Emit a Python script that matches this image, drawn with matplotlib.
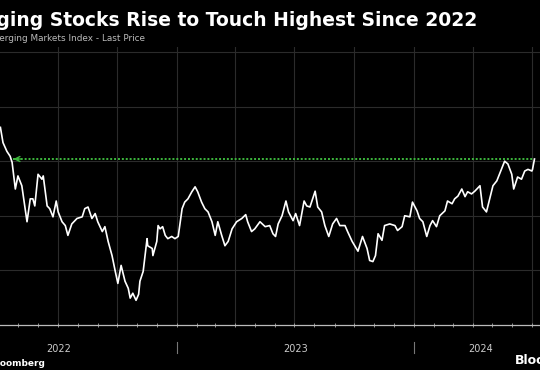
import matplotlib
matplotlib.use("Agg")
import matplotlib.pyplot as plt
import matplotlib.dates as mdates
import matplotlib.transforms as mtransforms
import numpy as np
import pandas as pd

# MSCI Emerging Markets Index, last price
dates = ["2022-04-04", "2022-04-08", "2022-04-14", "2022-04-19", "2022-04-22", "2022-04-27",
         "2022-05-01", "2022-05-07", "2022-05-12", "2022-05-15", "2022-05-20", "2022-05-24",
         "2022-05-27", "2022-06-01", "2022-06-07", "2022-06-09", "2022-06-15", "2022-06-19",
         "2022-06-24", "2022-06-29", "2022-07-02", "2022-07-08", "2022-07-13", "2022-07-17",
         "2022-07-23", "2022-07-31", "2022-08-08", "2022-08-12", "2022-08-17", "2022-08-23",
         "2022-08-28", "2022-09-01", "2022-09-08", "2022-09-12", "2022-09-17", "2022-09-23",
         "2022-09-28", "2022-10-02", "2022-10-07", "2022-10-13", "2022-10-18", "2022-10-21",
         "2022-10-25", "2022-10-30", "2022-11-03", "2022-11-05", "2022-11-10", "2022-11-16",
         "2022-11-17", "2022-11-24", "2022-11-25", "2022-12-01", "2022-12-03", "2022-12-06",
         "2022-12-10", "2022-12-14", "2022-12-18", "2022-12-24", "2022-12-29", "2023-01-03",
         "2023-01-09", "2023-01-13", "2023-01-18", "2023-01-24", "2023-01-29", "2023-02-02",
         "2023-02-08", "2023-02-13", "2023-02-18", "2023-02-24", "2023-03-01", "2023-03-05",
         "2023-03-11", "2023-03-16", "2023-03-21", "2023-03-27", "2023-04-03", "2023-04-11",
         "2023-04-17", "2023-04-20", "2023-04-26", "2023-05-01", "2023-05-09", "2023-05-17",
         "2023-05-24", "2023-05-29", "2023-06-02", "2023-06-06", "2023-06-12", "2023-06-18",
         "2023-06-22", "2023-06-29", "2023-07-03", "2023-07-09", "2023-07-16", "2023-07-20",
         "2023-07-25", "2023-08-02", "2023-08-06", "2023-08-12", "2023-08-17", "2023-08-23",
         "2023-08-29", "2023-09-04", "2023-09-09", "2023-09-17", "2023-09-21", "2023-09-28",
         "2023-10-02", "2023-10-07", "2023-10-14", "2023-10-21", "2023-10-25", "2023-10-30",
         "2023-11-03", "2023-11-07", "2023-11-13", "2023-11-17", "2023-11-25", "2023-12-03",
         "2023-12-07", "2023-12-14", "2023-12-18", "2023-12-26", "2023-12-30", "2024-01-06",
         "2024-01-10", "2024-01-15", "2024-01-21", "2024-01-26", "2024-01-30", "2024-02-05",
         "2024-02-10", "2024-02-18", "2024-02-22", "2024-02-29", "2024-03-04", "2024-03-09",
         "2024-03-15", "2024-03-20", "2024-03-24", "2024-03-30", "2024-04-04", "2024-04-12",
         "2024-04-16", "2024-04-22", "2024-04-27", "2024-05-02", "2024-05-08", "2024-05-12",
         "2024-05-20", "2024-05-25", "2024-05-31", "2024-06-03", "2024-06-09", "2024-06-15",
         "2024-06-20", "2024-06-25", "2024-07-01", "2024-07-02", "2024-07-05"]
prices = [1162, 1134, 1118, 1109, 1098, 1049,
          1073, 1055, 1013, 989, 1031, 1031,
          1018, 1076, 1067, 1073, 1018, 1013,
          998, 1027, 1007, 989, 982, 964,
          985, 995, 998, 1013, 1016, 995,
          1004, 989, 971, 980, 953, 927,
          898, 876, 909, 880, 867, 849,
          858, 845, 856, 880, 898, 958,
          945, 940, 927, 953, 982, 976,
          980, 964, 958, 962, 958, 962,
          1013, 1025, 1031, 1044, 1053, 1044,
          1025, 1013, 1007, 989, 964, 989,
          964, 945, 953, 976, 989, 995,
          1002, 989, 971, 976, 989, 980,
          982, 967, 962, 985, 1000, 1027,
          1007, 991, 1004, 982, 1027, 1018,
          1016, 1045, 1016, 1007, 982, 962,
          985, 995, 982, 982, 971, 953,
          945, 935, 962, 940, 918, 916,
          927, 967, 955, 982, 985, 982,
          973, 980, 1000, 998, 1025, 1009,
          995, 989, 962, 982, 991, 980,
          1000, 1009, 1027, 1022, 1031, 1036,
          1049, 1035, 1044, 1040, 1045, 1055,
          1016, 1007, 1031, 1055, 1064, 1076,
          1100, 1095, 1076, 1049, 1071, 1067,
          1082, 1085, 1082, 1085, 1104]

high_level = 1104
high_from = "2022-04-24"
years = ["2022", "2023", "2024"]

x = pd.to_datetime(dates)
xmin = pd.Timestamp("2022-01-01")
xmax = pd.Timestamp("2024-07-26")

fig = plt.figure(figsize=(5.4, 3.7), dpi=100, facecolor="black")
# axes extend past the left/right edges, like the cropped original
ax = fig.add_axes([-0.111, 0.122, 1.126, 0.752], facecolor="black")

ax.plot(x, prices, color="white", lw=1.2, zorder=3)

# dotted green "highest since" arrow
ax.plot([pd.Timestamp(high_from), x[-1]], [high_level, high_level],
        color="#3db83d", lw=1.4, ls=(0, (1, 1)), zorder=2)
ax.annotate("", xy=(pd.Timestamp(high_from), high_level),
            xytext=(pd.Timestamp(high_from) + pd.Timedelta(days=12), high_level),
            arrowprops=dict(arrowstyle="->", color="#3db83d", lw=1.0,
                            mutation_scale=9, shrinkA=0, shrinkB=0), zorder=2)

ax.set_xlim(xmin, xmax)
ax.set_ylim(800, 1310)
ax.set_yticks([900, 1000, 1100, 1200, 1300])
ax.xaxis.set_major_locator(mdates.MonthLocator(bymonth=[1, 4, 7, 10]))
ax.xaxis.set_minor_locator(mdates.MonthLocator())
ax.grid(True, color="#2b2b2b", lw=0.8)
ax.tick_params(axis="y", length=0, labelleft=False)
ax.tick_params(axis="x", which="both", labelbottom=False, color="#aaaaaa",
               direction="inout", length=3, width=0.6)
for s in ["top", "right", "left"]:
    ax.spines[s].set_visible(False)
ax.spines["bottom"].set_color("#bbbbbb")
ax.spines["bottom"].set_linewidth(0.9)

# year labels and separators
trans = mtransforms.blended_transform_factory(ax.transData, ax.transAxes)
for i, yr in enumerate(years):
    start = max(pd.Timestamp(yr + "-01-01"), xmin)
    end = min(pd.Timestamp(str(int(yr) + 1) + "-01-01"), xmax)
    mid = start + (end - start) / 2
    ax.text(mid, -0.085, yr, transform=trans, ha="center", va="center",
            color="#cccccc", fontsize=7)
    if i > 0:
        ax.plot([start, start], [-0.06, -0.10], transform=trans, color="#777777",
                lw=0.8, clip_on=False)

fig.text(0.884, 0.945, "Emerging Stocks Rise to Touch Highest Since 2022",
         ha="right", va="center", color="white", fontsize=13.5, fontweight="bold")
fig.text(0.269, 0.897, "MSCI Emerging Markets Index - Last Price",
         ha="right", va="center", color="#bbbbbb", fontsize=6.4)
fig.text(0.084, 0.018, "Source: Bloomberg", ha="right", va="center",
         color="white", fontsize=6.5, fontweight="bold")
fig.text(0.953, 0.027, "Bloomberg", ha="left", va="center",
         color="white", fontsize=9, fontweight="bold")

fig.savefig("out.png", dpi=100, facecolor="black")
